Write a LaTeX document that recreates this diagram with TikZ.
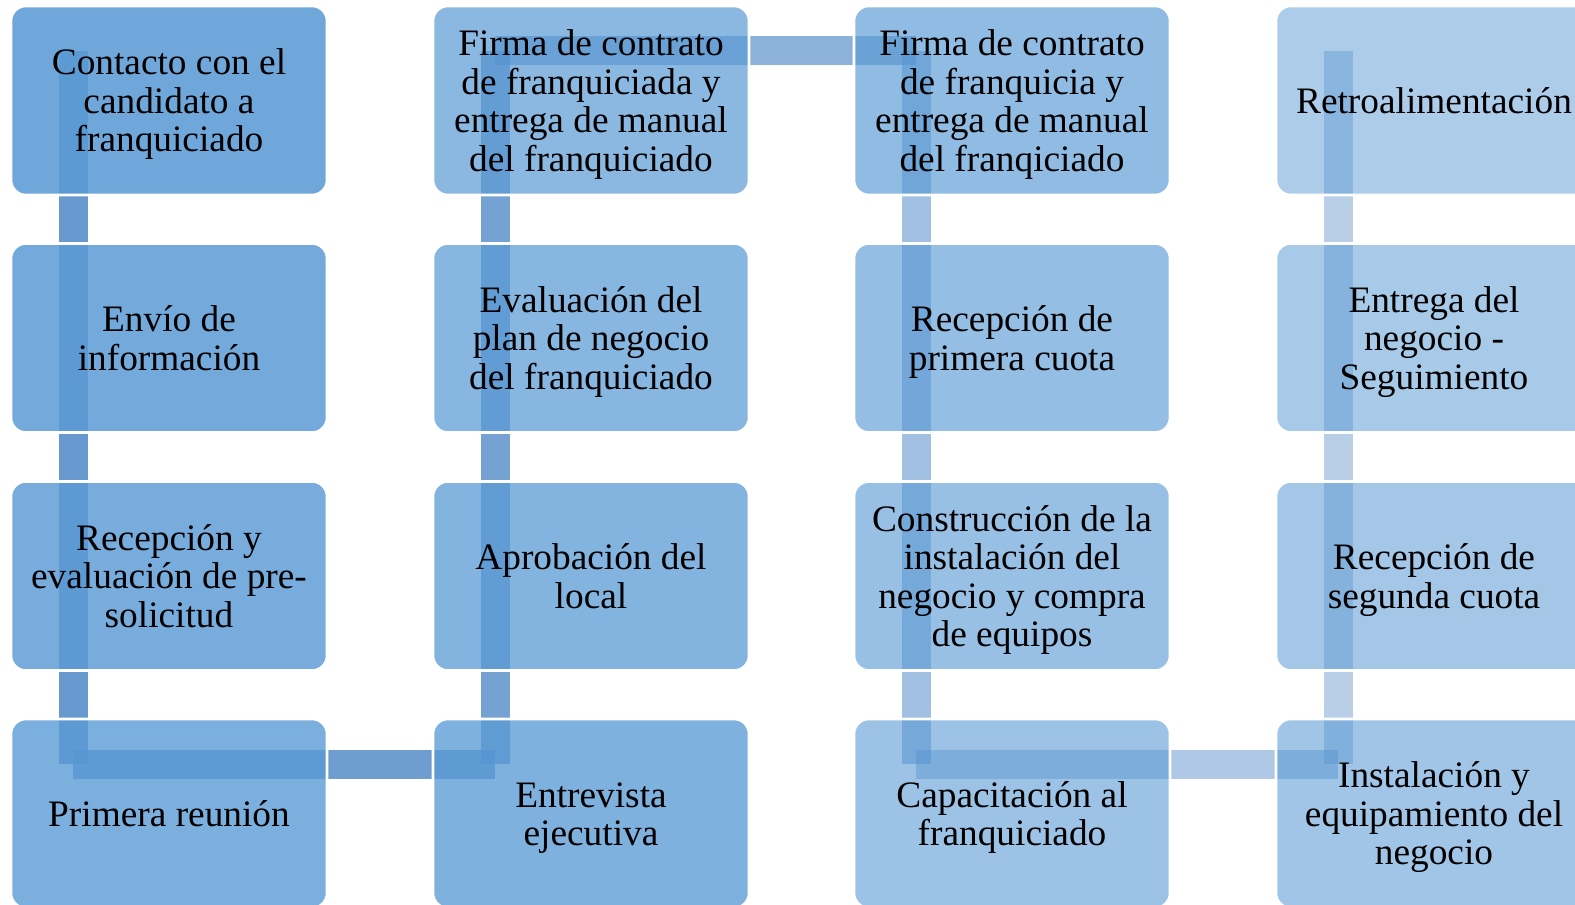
\documentclass[tikz,border=0pt]{standalone}
\usepackage{fontspec}
\setmainfont{Liberation Serif}
\usetikzlibrary{backgrounds}

\definecolor{stepblue}{RGB}{91,155,213}
\definecolor{linkblue}{RGB}{70,130,195}
% fixed height of the first line and depth of the last one
\newcommand{\firstline}{\rule{0pt}{25.5pt}}
\newcommand{\lastline}{\rule[-6.1pt]{0pt}{6.1pt}}

\tikzset{every picture/.style={line width=0.75pt}}
\tikzset{
  stepbox/.style={rectangle, rounded corners=11.25pt, fill=stepblue, fill opacity=#1, text opacity=1,
    draw=white, draw opacity=1, line width=1.9pt, minimum width=237pt, minimum height=141.75pt,
    inner sep=0pt, outer sep=0pt, align=center, font=\fontsize{28}{28.9}\selectfont},
  link/.style={draw=linkblue, draw opacity=#1, line width=21.75pt, line cap=butt}
}

\begin{document}
\begin{tikzpicture}[x=0.75pt,y=0.75pt,yscale=-1,xscale=1]
\useasboundingbox (0,0) rectangle (1575,905);
\clip (0,0) rectangle (1575,905);

%Shape: Rounded Rectangle [column 1]
\node [stepbox=0.88] (b1) at (169,100.5) {\firstline Contacto con el\\candidato a\\franquiciado\lastline};
\node [stepbox=0.855] (b2) at (169,338) {\firstline Envío de\\información\lastline};
\node [stepbox=0.83] (b3) at (169,576) {\firstline Recepción y\\evaluación de pre-\\solicitud\lastline};
\node [stepbox=0.805] (b4) at (169,813.5) {\firstline Primera reunión\lastline};
%Shape: Rounded Rectangle [column 2]
\node [stepbox=0.78] (b5) at (591,813.5) {\firstline Entrevista\\ejecutiva\lastline};
\node [stepbox=0.755] (b6) at (591,576) {\firstline Aprobación del\\local\lastline};
\node [stepbox=0.73] (b7) at (591,338) {\firstline Evaluación del\\plan de negocio\\del franquiciado\lastline};
\node [stepbox=0.705] (b8) at (591,100.5) {\firstline Firma de contrato\\de franquiciada y\\entrega de manual\\del franquiciado\lastline};
%Shape: Rounded Rectangle [column 3]
\node [stepbox=0.68] (b9) at (1012,100.5) {\firstline Firma de contrato\\de franquicia y\\entrega de manual\\del franqiciado\lastline};
\node [stepbox=0.655] (b10) at (1012,338) {\firstline Recepción de\\primera cuota\lastline};
\node [stepbox=0.63] (b11) at (1012,576) {\firstline Construcción de la\\instalación del\\negocio y compra\\de equipos\lastline};
\node [stepbox=0.605] (b12) at (1012,813.5) {\firstline Capacitación al\\franquiciado\lastline};
%Shape: Rounded Rectangle [column 4]
\node [stepbox=0.58] (b13) at (1434,813.5) {\firstline Instalación y\\equipamiento del\\negocio\lastline};
\node [stepbox=0.555] (b14) at (1434,576) {\firstline Recepción de\\segunda cuota\lastline};
\node [stepbox=0.53] (b15) at (1434,338) {\firstline Entrega del\\negocio -\\Seguimiento\lastline};
\node [stepbox=0.505] (b16) at (1434,100.5) {\firstline Retroalimentación\lastline};

%Straight Lines [bends of the path]
\coordinate (c0) at ([shift={(62,45)}]b1.north west);
\coordinate (c1) at ([shift={(62,45)}]b4.north west);
\coordinate (c2) at ([shift={(62,45)}]b5.north west);
\coordinate (c3) at ([shift={(62,45)}]b8.north west);
\coordinate (c4) at ([shift={(62,45)}]b9.north west);
\coordinate (c5) at ([shift={(62,45)}]b12.north west);
\coordinate (c6) at ([shift={(62,45)}]b13.north west);
\coordinate (c7) at ([shift={(62,45)}]b16.north west);

\begin{scope}[on background layer]
%Straight Lines [path behind the boxes]
\draw [link=0.82] (c0) -- (c1);
\draw [link=0.78] (c1) -- (c2);
\draw [link=0.74] (c2) -- (c3);
\draw [link=0.62] (c3) -- (c4);
\draw [link=0.5] (c4) -- (c5);
\draw [link=0.44] (c5) -- (c6);
\draw [link=0.38] (c6) -- (c7);
\end{scope}

\end{tikzpicture}
\end{document}
